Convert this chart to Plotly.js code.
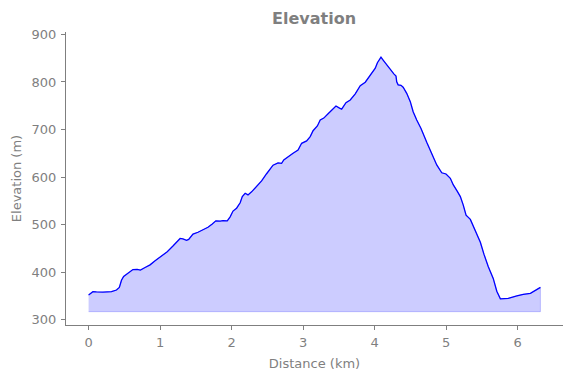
<!DOCTYPE html>
<html>
<head>
<meta charset="utf-8">
<script src="https://cdn.plot.ly/plotly-3.0.1.min.js"></script>
<style>html,body{margin:0;padding:0;background:#fff;}#chart{width:571px;height:378px;}</style>
</head>
<body>
<div id="chart"></div>
<script>
const distanceKm = [0.00,0.06,0.11,0.20,0.32,0.39,0.43,0.46,0.49,0.55,0.62,0.68,0.725,0.79,0.86,0.93,1.02,1.10,1.18,1.24,1.28,1.32,1.37,1.40,1.46,1.53,1.60,1.67,1.73,1.78,1.84,1.88,1.94,1.98,2.02,2.07,2.12,2.15,2.19,2.23,2.28,2.35,2.42,2.49,2.53,2.58,2.65,2.70,2.73,2.79,2.86,2.93,2.98,3.05,3.10,3.14,3.20,3.24,3.29,3.35,3.41,3.46,3.51,3.54,3.60,3.66,3.73,3.80,3.87,3.91,3.96,4.01,4.04,4.09,4.12,4.17,4.22,4.27,4.30,4.31,4.33,4.37,4.40,4.45,4.50,4.54,4.59,4.65,4.73,4.80,4.87,4.94,5.00,5.06,5.10,5.16,5.20,5.24,5.28,5.34,5.39,5.44,5.48,5.53,5.59,5.66,5.71,5.76,5.87,5.99,6.08,6.18,6.32];
const elevationM = [352,359,358.5,358,359,362.5,368,383,391,398,405.5,406,404.5,410,415.5,424,434,443,455,465,471,470,467,469,480,484,489,494.5,501.5,508,507.5,508.5,508,516.5,528.5,534.5,546,559,566,562.5,569,580,592,607,614,625,630,629,636,643,650,657,671,676,685,697.5,707.5,720,724,733,743,749.5,745,743,756.5,762,775,792,799.5,808,819.5,829,840.5,852,846,836,825,817,812.5,800.5,794,793,789,776,758.5,737.5,720,702,673,650,625.5,609,606.5,597.5,584,569.5,559,541.5,520,511,494,480,463,438,412,387,360,344,345,350,353.5,355.5,368];
const fillBase = 317;
const xTicks = [0,1,2,3,4,5,6];
const yTicks = [300,400,500,600,700,800,900];

const polyX = distanceKm.concat(distanceKm.slice().reverse());
const polyY = elevationM.concat(distanceKm.map(() => fillBase));

const gray = '#7f7f7f';
const traces = [
  {x: polyX, y: polyY, type: 'scatter', mode: 'lines', fill: 'toself',
   fillcolor: 'rgba(0,0,255,0.2)', line: {color: 'rgba(0,0,255,0.2)', width: 1},
   hoverinfo: 'skip', showlegend: false},
  {x: distanceKm, y: elevationM, type: 'scatter', mode: 'lines',
   line: {color: '#0000ff', width: 1.3}, showlegend: false}
];
const layout = {
  width: 571, height: 378,
  margin: {l: 66, r: 8, t: 32, b: 53},
  paper_bgcolor: '#ffffff', plot_bgcolor: '#ffffff',
  font: {family: 'DejaVu Sans', color: gray, size: 13},
  title: {text: '<b>Elevation</b>', font: {family: 'DejaVu Sans', size: 16, color: gray},
          x: 0.55, xref: 'container', xanchor: 'center', y: 0.952, yref: 'container', yanchor: 'middle'},
  xaxis: {range: [-0.316, 6.636], tickvals: xTicks, ticktext: xTicks.map(String),
          showgrid: false, zeroline: false, showline: true, linecolor: gray, linewidth: 1,
          ticks: 'outside', ticklen: 4, tickcolor: gray, tickfont: {size: 13, color: gray},
          ticklabelstandoff: 1,
          title: {text: 'Distance (km)', font: {size: 13, color: gray}, standoff: 10}},
  yaxis: {range: [289, 905], tickvals: yTicks, ticktext: yTicks.map(String),
          showgrid: false, zeroline: false, showline: true, linecolor: gray, linewidth: 1,
          ticks: 'outside', ticklen: 4, tickcolor: gray, tickfont: {size: 13, color: gray},
          ticklabelstandoff: 2,
          title: {text: 'Elevation (m)', font: {size: 13, color: gray}, standoff: 7}}
};
Plotly.newPlot('chart', traces, layout, {displayModeBar: false, staticPlot: true});
</script>
</body>
</html>
